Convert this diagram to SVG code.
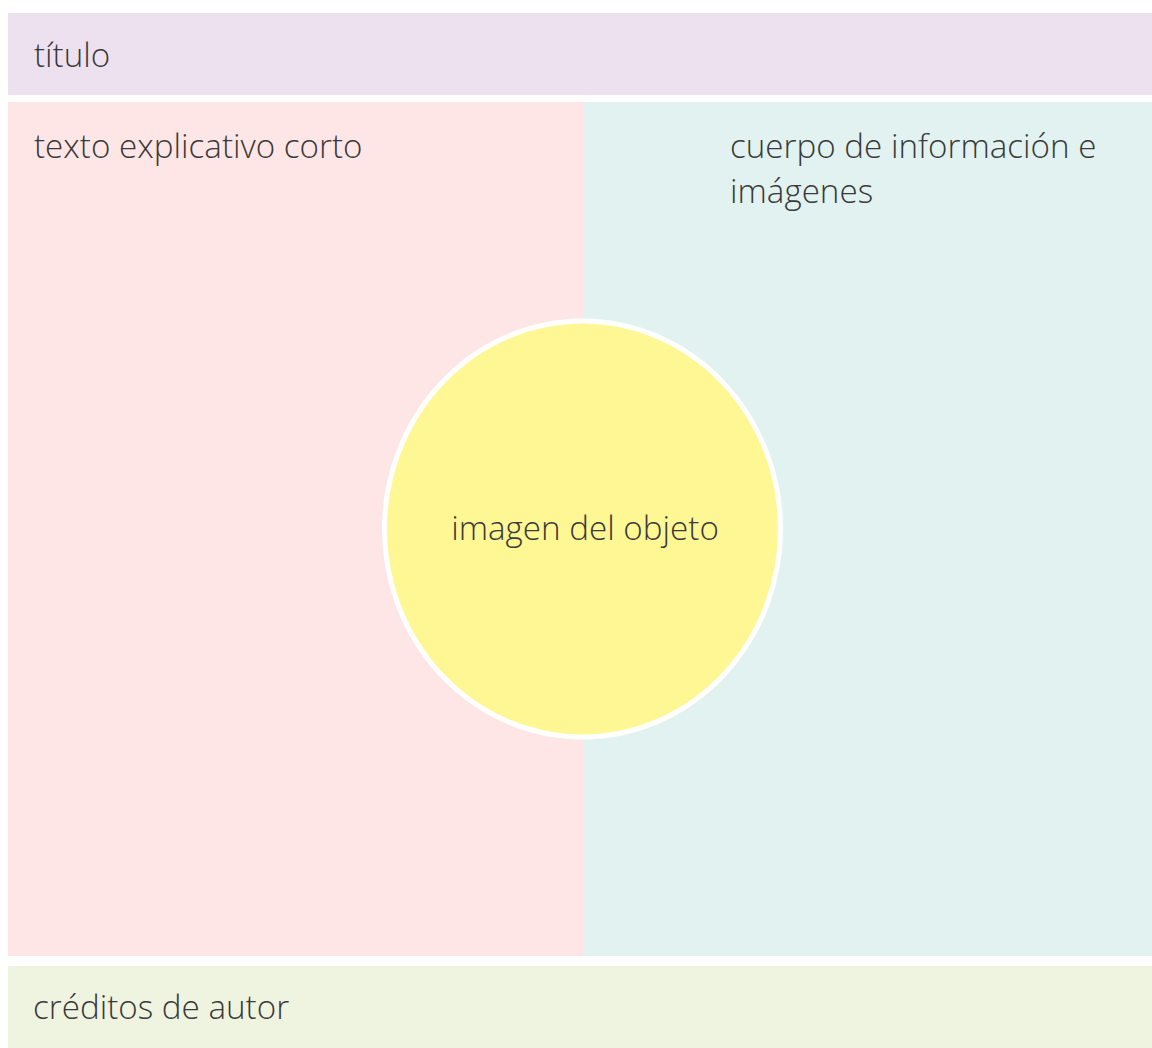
<svg xmlns="http://www.w3.org/2000/svg" width="1152" height="1048" viewBox="0 0 1152 1048">
<style>
.t{font-family:"Open Sans","Liberation Sans",sans-serif;font-size:33.2px;fill:#3a3a3a;font-weight:300}
</style>
<rect width="1152" height="1048" fill="#ffffff"/>
<g id="titulo"><rect x="8" y="13" width="1144" height="82" fill="#ede1f0"/><text class="t" x="34" y="67">título</text></g>
<g id="texto"><rect x="8" y="102" width="576" height="854" fill="#ffe6e6"/><text class="t" x="34" y="158">texto explicativo corto</text></g>
<g id="cuerpo"><rect x="584" y="102" width="568" height="854" fill="#e1f2f1"/><text class="t" x="730" y="158">cuerpo de información e</text><text class="t" x="730" y="203">imágenes</text></g>
<g id="imagen"><ellipse cx="582.5" cy="529" rx="198" ry="208" fill="#fff794" stroke="#ffffff" stroke-width="5"/><text class="t" x="585" y="540" text-anchor="middle">imagen del objeto</text></g>
<g id="creditos"><rect x="8" y="966" width="1144" height="82" fill="#eff4e1"/><text class="t" x="33" y="1019">créditos de autor</text></g>
<g id="connectors"/>
</svg>
